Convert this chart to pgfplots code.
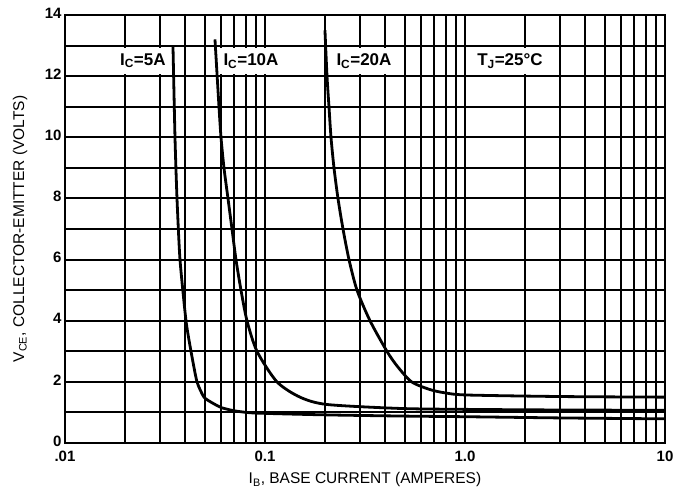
\documentclass[border=0pt]{standalone}
\usepackage{fontspec}
\setmainfont{Liberation Sans}
\usepackage{pgfplots}
\pgfplotsset{compat=1.18}
\begin{document}
\begin{tikzpicture}
\begin{axis}[
  at={(0,0)}, anchor=south west,
  width=600pt, height=428pt, scale only axis,
  xmode=log, xmin=0.01, xmax=10, ymin=0, ymax=14,
  xtick={0.01,0.1,1,10}, xticklabels={.01,0.1,1.0,10},
  minor xtick={0.02,0.03,0.04,0.05,0.06,0.07,0.08,0.09,0.2,0.3,0.4,0.5,0.6,0.7,0.8,0.9,2,3,4,5,6,7,8,9},
  ytick={0,2,4,6,8,10,12,14}, yticklabels={0,2,4,6,8,10,12,14},
  minor ytick={1,3,5,7,9,11,13},
  grid=both,
  major grid style={black, line width=1.9pt},
  minor grid style={black, line width=1.9pt},
  axis line style={line width=2.4pt},
  tick style={draw=none},
  ticklabel style={font=\fontsize{15}{15}\selectfont\bfseries},
  xticklabel style={yshift=-4pt},
  yticklabel style={yshift=2pt},
  label style={font=\fontsize{15.5}{17}\selectfont},
  xlabel={I\textsubscript{B}, BASE CURRENT (AMPERES)},
  ylabel={V\textsubscript{CE}, COLLECTOR-EMITTER (VOLTS)},
  xlabel style={at={(axis description cs:0.5,-0.0864)}, anchor=center},
  ylabel style={at={(axis description cs:-0.075,0.5)}, anchor=center},
]
% white boxes behind labels
\fill[white] (axis cs:0.0160,12.08) rectangle (axis cs:0.0338,12.92);
\fill[white] (axis cs:0.0585,12.08) rectangle (axis cs:0.145,12.92);
\fill[white] (axis cs:0.205,12.08) rectangle (axis cs:0.48,12.92);
\fill[white] (axis cs:1.06,12.08) rectangle (axis cs:2.9,12.92);
\node[font=\fontsize{17}{17}\selectfont\bfseries] at (axis cs:0.0245,12.5) {I\textsubscript{C}=5A};
\node[font=\fontsize{17}{17}\selectfont\bfseries] at (axis cs:0.0851,12.5) {I\textsubscript{C}=10A};
\node[font=\fontsize{17}{17}\selectfont\bfseries] at (axis cs:0.3126,12.5) {I\textsubscript{C}=20A};
\node[font=\fontsize{17}{17}\selectfont\bfseries] at (axis cs:1.679,12.5) {T\textsubscript{J}=25°C};
% IC = 5A
\addplot[black, line width=2.8pt, smooth, tension=0.35] coordinates {
(0.03467,13.0) (0.03548,10.0) (0.03631,8.0) (0.03758,6.0) (0.04027,4.0)
(0.04266,3.0) (0.04571,2.0) (0.04955,1.5) (0.0549,1.3) (0.0610,1.15)
(0.0708,1.05) (0.0891,0.98) (0.2,0.92) (0.5,0.88) (1.0,0.86)
(3.0,0.82) (10.0,0.79)
};
% IC = 10A
\addplot[black, line width=2.8pt, smooth, tension=0.45] coordinates {
(0.05623,13.2) (0.05888,11.0) (0.06026,10.0) (0.06237,9.0) (0.06531,8.0)
(0.06839,7.0) (0.07161,6.0) (0.07586,5.0) (0.08128,4.0) (0.0912,3.0)
(0.1148,2.0) (0.1496,1.5) (0.204,1.26) (0.473,1.13) (1.0,1.1)
(3.0,1.08) (10.0,1.07)
};
% IC = 20A
\addplot[black, line width=2.8pt, smooth, tension=0.45] coordinates {
(0.1995,13.5) (0.2042,12.0) (0.2089,11.0) (0.2138,10.0) (0.2213,9.0)
(0.2317,8.0) (0.2455,7.0) (0.2630,6.0) (0.2884,5.0) (0.335,4.0)
(0.407,3.0) (0.4600,2.5) (0.5408,2.0) (0.6668,1.75) (0.7943,1.64)
(1.023,1.57) (3.0,1.52) (10.0,1.5)
};
\end{axis}
\pgfresetboundingbox
\path[use as bounding box] (-65pt,-49pt) rectangle (622pt,443pt);
\end{tikzpicture}
\end{document}
